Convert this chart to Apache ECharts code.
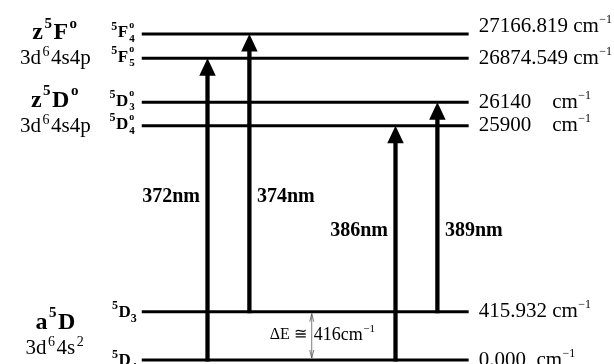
<!DOCTYPE html>
<html>
<head>
<meta charset="utf-8">
<script src="https://cdn.jsdelivr.net/npm/echarts@6/dist/echarts.min.js"></script>
<style>
html,body{margin:0;padding:0;background:#fff;}
#c{width:614px;height:364px;}
</style>
</head>
<body>
<div id="c"></div>
<script>
// ---------------- DATA ----------------
// Energy levels (cm^-1), term symbols and right-hand labels
const levelEnergy = [0, 415.932, 25900, 26140, 26874.549, 27166.819];
const levelTerm   = ['^{5}D_{4}', '^{5}D_{3}', '^{5}D^{o}_{4}', '^{5}D^{o}_{3}', '^{5}F^{o}_{5}', '^{5}F^{o}_{4}'];
const levelLabel  = ['0.000  cm^{−1}', '415.932 cm^{−1}', '25900    cm^{−1}', '26140    cm^{−1}', '26874.549 cm^{−1}', '27166.819 cm^{−1}'];

// Multiplets (left-hand labels)
const multipletName   = ['a^{5}D', 'z^{5}D^{o}', 'z^{5}F^{o}'];
const multipletConfig = ['3d^{6}4s^{2}', '3d^{6}4s4p', '3d^{6}4s4p'];
const multipletLow    = [0, 25900, 26874.549];
const multipletHigh   = [415.932, 26140, 27166.819];

// Upper multiplets reached by the transitions (x categories)
const upperMultiplets = ['z5F°', 'z5D°'];

// Transitions
const transitionName  = ['372nm', '374nm', '386nm', '389nm'];
const transitionUpper = ['z5F°', 'z5F°', 'z5D°', 'z5D°'];
const transitionFrom  = [0, 415.932, 0, 415.932];
const transitionTo    = [26874.549, 27166.819, 25900, 26140];

// Ground-state splitting annotation
const deltaLabel = ['ΔE ≅', '416cm^{−1}'];
const deltaFrom = 0;
const deltaTo = 415.932;

// ---------------- HELPERS ----------------
const SERIF = '"Liberation Serif","Times New Roman",serif';

function toRich(s) {
  let out = '', i = 0;
  const isMark = k => (s[k] === '^' || s[k] === '_') && s[k + 1] === '{';
  while (i < s.length) {
    if (isMark(i)) {
      const j = s.indexOf('}', i);
      out += '{' + (s[i] === '^' ? 'p' : 'q') + '|' + s.slice(i + 2, j) + '}';
      i = j + 1;
    } else {
      let j = i;
      while (j < s.length && !isMark(j)) j++;
      out += '{b|' + s.slice(i, j) + '}';
      i = j;
    }
  }
  return out;
}
function richSet(size, weight, supSize, lh, supPad) {
  const f = {fontFamily: SERIF, fontWeight: weight, fill: '#000'};
  const pad = supPad || 0;
  return {
    b: Object.assign({fontSize: size, lineHeight: lh}, f),
    p: Object.assign({fontSize: supSize, lineHeight: supSize, verticalAlign: 'top', padding: [0, pad, 0, pad]}, f),
    q: Object.assign({fontSize: supSize, lineHeight: supSize, verticalAlign: 'bottom', padding: [0, pad, 0, 0]}, f)
  };
}

// layout constants
const LINE_INSET_L = 7.3, LINE_INSET_R = 41.8, LINE_W = 3;
const PAIR_OFFSET = 0.1114;
const SHAFT = 4.3, HEAD_W = 16.5, HEAD_H = 17.5;

// ---------------- SERIES DATA ----------------
const levelData = levelEnergy.map((e, i) => [0, e, i]);

const sideCount = {};
const transitionData = transitionName.map((n, i) => {
  const g = transitionUpper[i];
  const cat = upperMultiplets.indexOf(g);
  sideCount[g] = (sideCount[g] || 0) + 1;
  const side = sideCount[g] === 1 ? -1 : 1;
  const members = transitionUpper.map((u, k) => u === g ? k : -1).filter(k => k >= 0);
  const low = Math.min.apply(null, members.map(k => transitionFrom[k]));
  const high = Math.max.apply(null, members.map(k => transitionTo[k]));
  return [cat, transitionFrom[i], transitionTo[i], side, low, high];
});

const multipletData = multipletName.map((n, i) => [0, multipletLow[i], multipletHigh[i]]);

// ---------------- CHART ----------------
const chart = echarts.init(document.getElementById('c'), null, {renderer: 'canvas'});

const option = {
  animation: false,
  backgroundColor: '#ffffff',
  grid: {left: 134.45, right: 103.55, top: 34, bottom: 4, containLabel: false, outerBoundsMode: 'none'},
  xAxis: {type: 'category', data: upperMultiplets, show: false, boundaryGap: true},
  yAxis: {
    type: 'value', min: 0, max: 27166.819, show: false,
    splitLine: {show: false},
    breaks: [
      {start: 1000, end: 25400, gap: 517.6},
      {start: 25980, end: 26060, gap: 42.4},
      {start: 26250, end: 26750, gap: 143.5},
      {start: 26950, end: 27100, gap: 67}
    ],
    breakArea: {show: false}
  },
  series: [
    {
      // energy levels
      type: 'custom',
      data: levelData,
      encode: {x: 0, y: 1},
      clip: false,
      z: 2,
      renderItem: function (params, api) {
        const cs = params.coordSys;
        const i = api.value(2);
        const y = api.coord([0, api.value(1)])[1];
        const x0 = cs.x + LINE_INSET_L, x1 = cs.x + cs.width - LINE_INSET_R;
        const children = [
          {type: 'rect', shape: {x: x0, y: y - LINE_W / 2, width: x1 - x0, height: LINE_W}, style: {fill: '#000'}}
        ];
        // term symbol
        const m = levelTerm[i].match(/^\^\{(\d)\}([A-Z])(\^\{o\})?_\{(\d)\}$/);
        if (m[3]) {
          children.push({type: 'text', x: x0 - 13.5, y: y - 1,
            style: {text: toRich('^{' + m[1] + '}' + m[2]), rich: richSet(17, 'bold', 12, 25, 0.5), align: 'right', verticalAlign: 'middle'}});
          children.push({type: 'text', x: x0 - 12.5, y: y - 8.5,
            style: {text: 'o', fontSize: 10, fontWeight: 'bold', fontFamily: SERIF, fill: '#000', align: 'left', verticalAlign: 'middle'}});
          children.push({type: 'text', x: x0 - 12.5, y: y + 5,
            style: {text: m[4], fontSize: 11, fontWeight: 'bold', fontFamily: SERIF, fill: '#000', align: 'left', verticalAlign: 'middle'}});
        } else {
          children.push({type: 'text', x: x0 - 4.5, y: y + 1,
            style: {text: toRich('^{' + m[1] + '}' + m[2] + '_{' + m[4] + '}'), rich: richSet(17, 'bold', 12, 25, 0.5), align: 'right', verticalAlign: 'middle'}});
        }
        // energy label
        const dy = (i === levelEnergy.length - 1) ? -8 : 0;
        children.push({type: 'text', x: x1 + 10, y: y + dy,
          style: {text: toRich(levelLabel[i]), rich: richSet(21, 'normal', 12, 25, 0.5), align: 'left', verticalAlign: 'middle'}});
        return {type: 'group', children: children};
      }
    },
    {
      // transitions
      type: 'custom',
      data: transitionData,
      encode: {x: 0, y: [1, 2]},
      clip: false,
      z: 3,
      renderItem: function (params, api) {
        const cat = api.value(0), side = api.value(3);
        const bw = api.size([1, 0])[0];
        const base = api.coord([cat, api.value(1)]);
        const x = base[0] + side * bw * PAIR_OFFSET;
        const y0 = base[1];
        const y1 = api.coord([cat, api.value(2)])[1];
        const yl = (api.coord([cat, api.value(4)])[1] + api.coord([cat, api.value(5)])[1]) / 2;
        return {type: 'group', children: [
          {type: 'rect', shape: {x: x - SHAFT / 2, y: y1 + HEAD_H - 1, width: SHAFT, height: y0 + 1.5 - (y1 + HEAD_H - 1)}, style: {fill: '#000'}},
          {type: 'polygon', shape: {points: [[x, y1], [x - HEAD_W / 2, y1 + HEAD_H], [x + HEAD_W / 2, y1 + HEAD_H]]}, style: {fill: '#000'}},
          {type: 'text', x: x + side * 7.5, y: yl,
            style: {text: transitionName[params.dataIndex], fontSize: 20, fontWeight: 'bold', fontFamily: SERIF, fill: '#000',
              align: side < 0 ? 'right' : 'left', verticalAlign: 'middle'}}
        ]};
      }
    },
    {
      // multiplet labels
      type: 'custom',
      data: multipletData,
      encode: {x: 0, y: [1, 2]},
      clip: false,
      renderItem: function (params, api) {
        const cs = params.coordSys;
        const i = params.dataIndex;
        const y = (api.coord([0, api.value(1)])[1] + api.coord([0, api.value(2)])[1]) / 2;
        const x = cs.x - 79;
        return {type: 'group', children: [
          {type: 'text', x: x, y: y - 13,
            style: {text: toRich(multipletName[i]), rich: richSet(24, 'bold', 15, 34, 1.5), align: 'center', verticalAlign: 'middle'}},
          {type: 'text', x: x, y: y + 12.5,
            style: {text: toRich(multipletConfig[i]), rich: richSet(21, 'normal', 14, 27, 1.5), align: 'center', verticalAlign: 'middle'}}
        ]};
      }
    },
    {
      // Delta E annotation
      type: 'custom',
      data: [[0, deltaFrom, deltaTo]],
      encode: {x: 0, y: [1, 2]},
      clip: false,
      renderItem: function (params, api) {
        const bw = api.size([1, 0])[0];
        const p0 = api.coord([0, api.value(1)]);
        const y1 = api.coord([0, api.value(2)])[1];
        const x = p0[0] + bw * 0.443;
        const y0 = p0[1];
        const ya = y1 + 2, yb = y0 - 2;
        const st = {stroke: '#555', lineWidth: 0.8, fill: null};
        const ym = (y0 + y1) / 2 - 2;
        return {type: 'group', children: [
          {type: 'line', shape: {x1: x, y1: ya, x2: x, y2: yb}, style: st},
          {type: 'polyline', shape: {points: [[x - 2, ya + 8], [x, ya], [x + 2, ya + 8]]}, style: st},
          {type: 'polyline', shape: {points: [[x - 2, yb - 8], [x, yb], [x + 2, yb - 8]]}, style: st},
          {type: 'text', x: x - 5, y: ym + 1,
            style: {text: deltaLabel[0], fontSize: 16, fontFamily: SERIF, fill: '#000', align: 'right', verticalAlign: 'middle'}},
          {type: 'text', x: x + 2, y: ym + 1,
            style: {text: toRich(deltaLabel[1]), rich: richSet(18, 'normal', 11, 22, 0.5), align: 'left', verticalAlign: 'middle'}}
        ]};
      }
    }
  ]
};
chart.setOption(option);
</script>
</body>
</html>
